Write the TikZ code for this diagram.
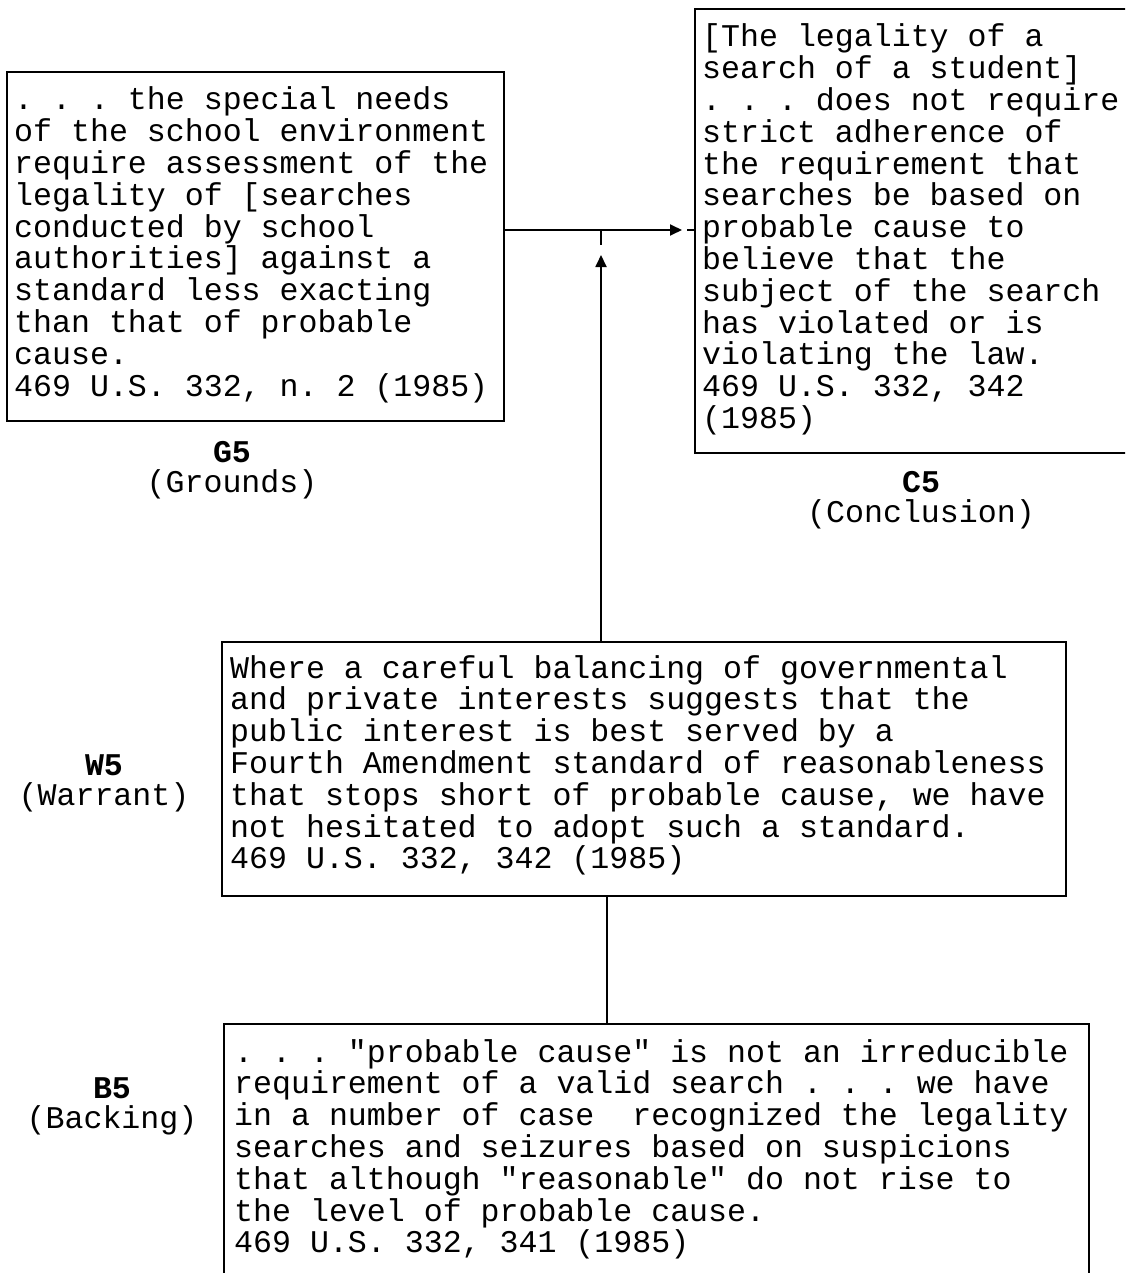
\documentclass[tikz,border=0pt]{standalone}
\usepackage{fontspec}
\newfontfamily\cour{Liberation Mono}
\usetikzlibrary{arrows.meta}
\newcommand{\courfont}{\cour\fontsize{31.6}{32}\selectfont\frenchspacing}
\newcommand{\lstack}[1]{\vtop{\baselineskip=31.8pt\lineskiplimit=-100pt\lineskip=0pt
  \halign{##\hfil\cr#1\crcr}}}
\newcommand{\cstack}[1]{\vtop{\baselineskip=30pt\lineskiplimit=-100pt\lineskip=0pt
  \halign{\hfil##\hfil\cr#1\crcr}}}
\begin{document}
\begin{tikzpicture}[x=1pt,y=-1pt,
  box/.style={draw, line width=1.8pt, rectangle, inner sep=0pt, anchor=north west},
  txt/.style={anchor=base west, inner sep=0pt, font=\courfont},
  lbl/.style={inner sep=0pt, anchor=base, font=\courfont},
  conn/.style={line width=1.8pt},
  tip/.style={-{Triangle[length=12pt,width=11pt]}}]
\useasboundingbox (0,0) rectangle (1125,1273);
\clip (0,0) rectangle (1125,1273);

% boxes
\node[box, minimum width=497pt, minimum height=349pt] (G) at (6,71) {};
\node[box, minimum width=450pt, minimum height=444pt] (C) at (694,8) {};
\node[box, minimum width=844pt, minimum height=254pt] (W) at (221,641) {};
\node[box, minimum width=865pt, minimum height=300pt] (B) at (223,1023) {};

% texts
\node[txt] (Gt) at (14,110) {\lstack{. . . the special needs\cr
of the school environment\cr
require assessment of the\cr
legality of [searches\cr
conducted by school\cr
authorities] against a\cr
standard less exacting\cr
than that of probable\cr
cause.\cr
469 U.S. 332, n. 2 (1985)}};

\node[txt] (Ct) at (702,47) {\lstack{[The legality of a\cr
search of a student]\cr
. . . does not require\cr
strict adherence of\cr
the requirement that\cr
searches be based on\cr
probable cause to\cr
believe that the\cr
subject of the search\cr
has violated or is\cr
violating the law.\cr
469 U.S. 332, 342\cr
(1985)}};

\node[txt] (Wt) at (230,678) {\lstack{Where a careful balancing of governmental\cr
and private interests suggests that the\cr
public interest is best served by a\cr
Fourth Amendment standard of reasonableness\cr
that stops short of probable cause, we have\cr
not hesitated to adopt such a standard.\cr
469 U.S. 332, 342 (1985)}};

\node[txt] (Bt) at (234,1062) {\lstack{. . . "probable cause" is not an irreducible\cr
requirement of a valid search . . . we have\cr
in a number of case\ \ recognized the legality\cr
searches and seizures based on suspicions\cr
that although "reasonable" do not rise to\cr
the level of probable cause.\cr
469 U.S. 332, 341 (1985)}};

% labels
\node[lbl] (G5) at (232,462) {\cstack{\textbf{G5}\cr(Grounds)}};
\node[lbl] (C5) at (921,492) {\cstack{\textbf{C5}\cr(Conclusion)}};
\node[lbl] (W5) at (104,775) {\cstack{\textbf{W5}\cr(Warrant)}};
\node[lbl] (B5) at (112,1098) {\cstack{\textbf{B5}\cr(Backing)}};

% connectors
\coordinate (hj) at (601,230);
\coordinate (htip) at (682,230);
\coordinate (hstub) at (687,230);
\coordinate (vtip) at (601,255);
\coordinate (vstub) at (601,245);
\coordinate (wb) at (607,0);

\draw[conn,tip] (G.east |- hj) -- (htip);
\draw[conn] (hstub) -- (C.west |- hj);
\draw[conn,tip] (W.north -| hj) -- (vtip);
\draw[conn] (hj) -- (vstub);
\draw[conn] (W.south -| wb) -- (B.north -| wb);
\end{tikzpicture}
\end{document}
